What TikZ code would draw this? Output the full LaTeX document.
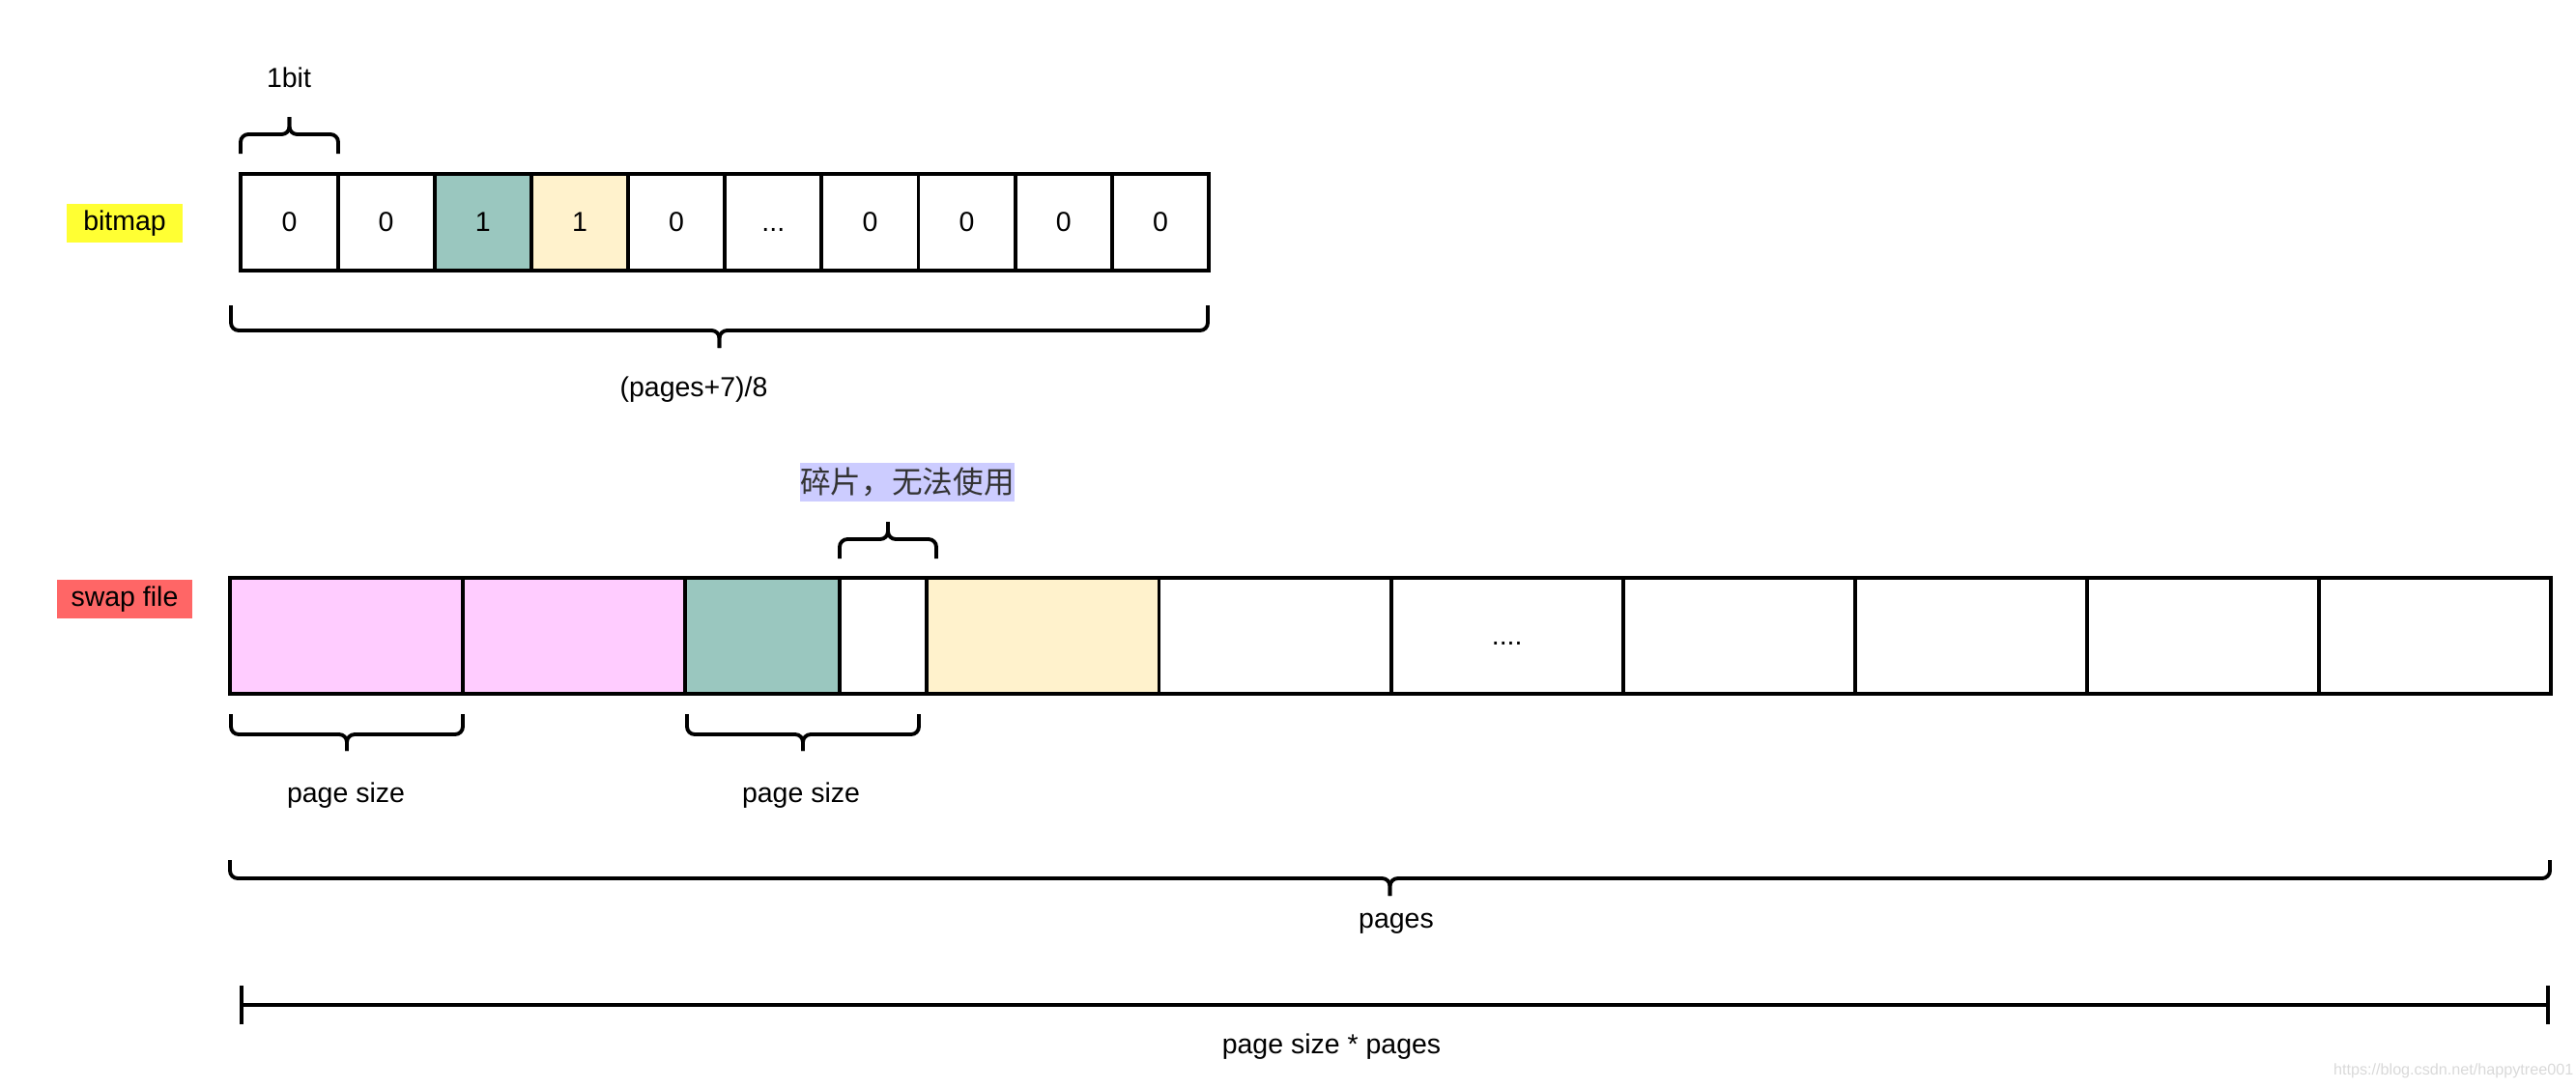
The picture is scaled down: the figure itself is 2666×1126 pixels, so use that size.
\documentclass[tikz,border=0pt]{standalone}
\usepackage{fontspec}
\setmainfont{Liberation Sans}
\newfontfamily\cjkfont{Noto Sans CJK SC}
\usetikzlibrary{arrows.meta,positioning}
\definecolor{pinkfill}{HTML}{FFCCFF}
\definecolor{tealfill}{HTML}{9AC7BF}
\definecolor{creamfill}{HTML}{FFF2CC}
\definecolor{markyellow}{HTML}{FFFF33}
\definecolor{tagred}{HTML}{FF6666}
\definecolor{lavender}{HTML}{CCCCFF}
\tikzset{
  bitcell/.style={rectangle,draw=black,line width=1.1pt,fill=white,outer sep=0pt,
    minimum width=1.001cm,minimum height=1cm,inner sep=0pt,
    font=\fontsize{8.1}{9.7}\selectfont},
  pagecell/.style={rectangle,draw=black,line width=1.1pt,fill=white,outer sep=0pt,
    minimum width=2.4cm,minimum height=1.2cm,inner sep=0pt,
    font=\fontsize{8.1}{9.7}\selectfont},
  tagbox/.style={rectangle,minimum height=0.4cm,inner sep=0pt,
    font=\fontsize{8.1}{9.7}\selectfont},
  lbl/.style={inner sep=0pt,font=\fontsize{8.1}{9.7}\selectfont},
  brace/.style={draw=black,line width=1.1pt,rounded corners=0.8mm},
  dimline/.style={{Bar[width=4mm]}-{Bar[width=4mm]},line width=1.1pt},
}
\newcommand{\hbrace}[5]{%
  \draw[brace] (#1,#3) -- (#1,#4) -- ({(#1+#2)/2},#4) -- ({(#1+#2)/2},#5);
  \draw[brace] (#2,#3) -- (#2,#4) -- ({(#1+#2)/2},#4) -- ({(#1+#2)/2},#5);}

\begin{document}
\begin{tikzpicture}[x=0.01cm,y=-0.01cm]
  \useasboundingbox (0,0) rectangle (2666,1126);
  \node[tagbox,fill=markyellow,minimum width=1.2cm] (bitmap) at (129,231) {bitmap};
  \node[bitcell] (b1) at (299.5,230) {0};
  \node[bitcell, right=0pt of b1] (b2) {0};
  \node[bitcell, right=0pt of b2, fill=tealfill] (b3) {1};
  \node[bitcell, right=0pt of b3, fill=creamfill] (b4) {1};
  \node[bitcell, right=0pt of b4] (b5) {0};
  \node[bitcell, right=0pt of b5] (b6) {\vphantom{0}...};
  \node[bitcell, right=0pt of b6] (b7) {0};
  \node[bitcell, right=0pt of b7] (b8) {0};
  \node[bitcell, right=0pt of b8] (b9) {0};
  \node[bitcell, right=0pt of b9] (b10) {0};
  \hbrace{249}{350}{159}{139}{121}
  \node[lbl] (onebit) at (299,80) {1bit};
  \hbrace{239}{1250}{316}{342}{360}
  \node[lbl] (bytes) at (718,403) {(pages+7)/8};

  \node[tagbox,fill=tagred,minimum width=1.4cm] (swap) at (129,620) {swap file};
  \node[pagecell,minimum width=2.41cm,fill=pinkfill] (s1) at (358.5,658) {};
  \node[pagecell, right=0pt of s1, minimum width=2.3cm, fill=pinkfill] (s2) {};
  \node[pagecell, right=0pt of s2, minimum width=1.6cm, fill=tealfill] (s3) {};
  \node[pagecell, right=0pt of s3, minimum width=0.9cm] (s4) {};
  \node[pagecell, right=0pt of s4, fill=creamfill] (s5) {};
  \node[pagecell, right=0pt of s5] (s6) {};
  \node[pagecell, right=0pt of s6] (s7) {\vphantom{0}....};
  \node[pagecell, right=0pt of s7] (s8) {};
  \node[pagecell, right=0pt of s8] (s9) {};
  \node[pagecell, right=0pt of s9] (s10) {};
  \node[pagecell, right=0pt of s10] (s11) {};
  \node[tagbox,fill=lavender,minimum width=2.2cm,text=black!80,
    font=\cjkfont\fontsize{9}{10.8}\selectfont] (frag) at (939,499) {碎片，无法使用};
  \hbrace{869}{969}{578}{558}{540}
  \hbrace{239}{479}{739}{760}{777}
  \node[lbl] (psize1) at (358,823) {page size};
  \hbrace{711}{951}{739}{760}{777}
  \node[lbl] (psize2) at (829,823) {page size};
  \hbrace{238}{2639}{890}{909}{927}
  \node[lbl] (pages) at (1445,956) {pages};

  \coordinate (dimL) at (248,1040);
  \coordinate (dimR) at (2639,1040);
  \draw[dimline] (dimL) -- (dimR);
  \node[lbl] (total) at (1378,1083) {page size * pages};
  \node[inner sep=0pt,anchor=east,text=black!15,font=\fontsize{4.6}{5}\selectfont]
    (mark) at (2664,1108) {https://blog.csdn.net/happytree001};
\end{tikzpicture}
\end{document}
